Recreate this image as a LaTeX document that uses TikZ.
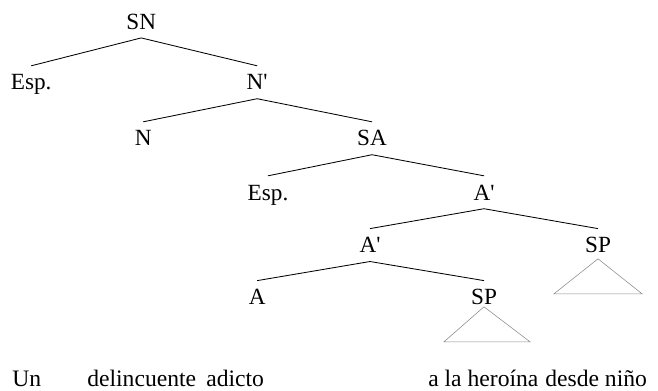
\documentclass[tikz,border=0pt]{standalone}
\usepackage{fontspec}
\setmainfont{Liberation Serif}
\begin{document}
\begin{tikzpicture}[cat/.style={font=\fontsize{16.5}{19}\selectfont, anchor=base, text height=11pt, text depth=0pt, inner xsep=2pt, inner ysep=6pt},
		word/.style={font=\fontsize{16.8}{19}\selectfont, anchor=base west, inner sep=0pt},
		edge/.style={line width=0.6pt},
		roof/.style={draw=black!45, line width=0.4pt}]
		\useasboundingbox (0,0) rectangle (16.45,9.75);
		\node[cat](snNode) at (3.53,9.02){SN};
		\node[cat](espOne) at (0.78,7.5){Esp.};
		\node[cat](nBarNode) at (6.43,7.5){N\textquotesingle};
		\node[cat](nNode) at (3.58,6.1){N};
		\node[cat](saNode) at (9.3,6.1){SA};
		\node[cat](espTwo) at (6.7,4.75){Esp.};
		\node[cat](aBarHigh) at (12.1,4.75){A\textquotesingle};
		\node[cat](aBarLow) at (9.25,3.43){A\textquotesingle};
		\node[cat](spHigh) at (14.95,3.43){SP};
		\node[cat](aNode) at (6.43,2.13){A};
		\node[cat](spLow) at (12.1,2.13){SP};
		\draw[edge] (snNode.south) -- (espOne.north);
		\draw[edge] (snNode.south) -- (nBarNode.north);
		\draw[edge] (nBarNode.south) -- (nNode.north);
		\draw[edge] (nBarNode.south) -- (saNode.north);
		\draw[edge] (saNode.south) -- (espTwo.north);
		\draw[edge] (saNode.south) -- (aBarHigh.north);
		\draw[edge] (aBarHigh.south) -- (aBarLow.north);
		\draw[edge] (aBarHigh.south) -- (spHigh.north);
		\draw[edge] (aBarLow.south) -- (aNode.north);
		\draw[edge] (aBarLow.south) -- (spLow.north);
		\draw[roof] ([yshift=-0.15cm]spHigh.base) -- ++(-1.1,-0.875) -- ++(2.2,0) -- cycle;
		\draw[roof] ([yshift=-0.05cm]spLow.base) -- ++(-1.0,-0.875) -- ++(2.15,0) -- cycle;
		\node[word](unWord) at (0.3,0.1){Un};
		\node[word](delincWord) at (2.175,0.1){delincuente};
		\node[word](adictoWord) at (5.15,0.1){adicto};
		\node[word](heroinaWord) at (10.7,0.1){a la heroína};
		\node[word](ninoWord) at (13.625,0.1){desde niño};
	\end{tikzpicture}
\end{document}
